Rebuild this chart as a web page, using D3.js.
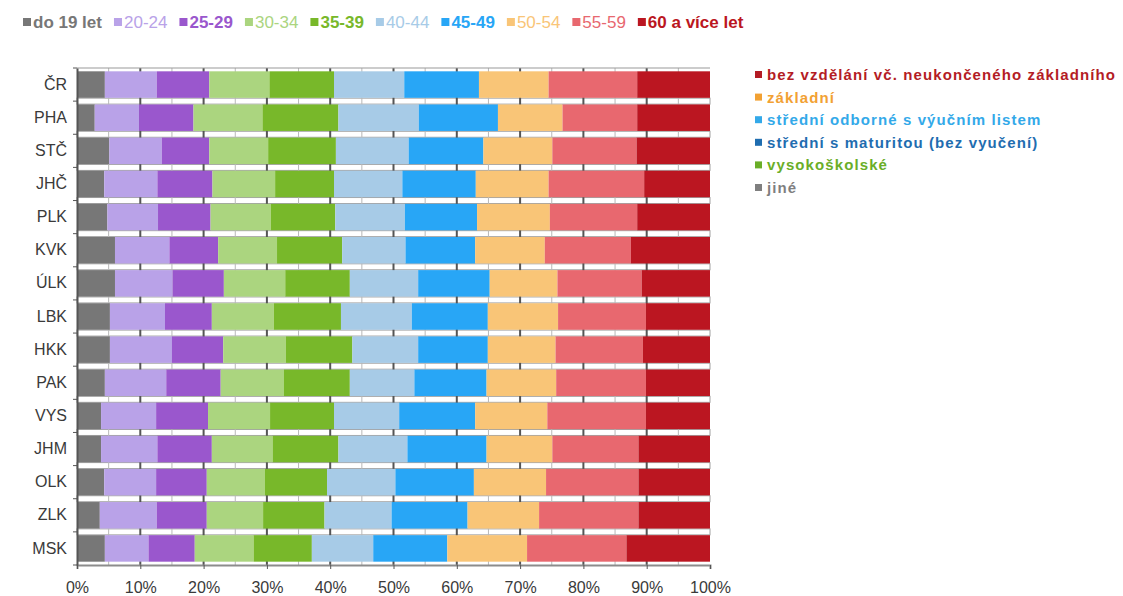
<!DOCTYPE html>
<html>
<head>
<meta charset="utf-8">
<script src="https://cdn.jsdelivr.net/npm/d3@7"></script>
<style>
  body { margin: 0; background: #fff; }
  text { font-family: "Liberation Sans", Arial, sans-serif; }
</style>
</head>
<body>
<div id="chart"></div>
<script>
(function() {
    const width = 1123,
          height = 596;

    // regions (top to bottom)
    const regions = ["ČR", "PHA", "STČ", "JHČ", "PLK", "KVK", "ÚLK", "LBK", "HKK", "PAK", "VYS", "JHM", "OLK", "ZLK", "MSK"];
    const ageGroups = ["do 19 let", "20-24", "25-29", "30-34", "35-39", "40-44", "45-49", "50-54", "55-59", "60 a více let"];
    const ageColors = ["#777777", "#b9a2e8", "#9a57cd", "#abd57f", "#78b82a", "#a7cbe7", "#28a6f6", "#f9c577", "#e8686f", "#bb1621"];
    const ageBold = [true, false, true, false, true, false, true, false, false, true];

    // share of each age group in % per region (same order as regions)
    const age19 = [4.4, 2.8, 5.1, 4.3, 4.8, 6.0, 6.0, 5.2, 5.2, 4.4, 3.8, 3.8, 4.3, 3.6, 4.4];
    const age20 = [8.2, 7.0, 8.3, 8.4, 8.0, 8.6, 9.1, 8.7, 9.8, 9.7, 8.7, 8.9, 8.2, 9.0, 6.9];
    const age25 = [8.3, 8.6, 7.5, 8.7, 8.3, 7.7, 8.1, 7.4, 8.1, 8.6, 8.2, 8.6, 8.0, 7.9, 7.3];
    const age30 = [9.5, 10.9, 9.3, 9.9, 9.5, 9.3, 9.7, 9.8, 9.9, 10.0, 9.8, 9.6, 9.2, 8.9, 9.3];
    const age35 = [10.2, 12.0, 10.7, 9.3, 10.2, 10.3, 10.2, 10.6, 10.5, 10.4, 10.1, 10.4, 9.8, 9.7, 9.2];
    const age40 = [11.1, 12.7, 11.5, 10.8, 11.0, 10.0, 10.8, 11.2, 10.4, 10.2, 10.3, 10.9, 10.8, 10.6, 9.7];
    const age45 = [11.8, 12.5, 11.8, 11.6, 11.4, 11.0, 11.3, 12.0, 11.0, 11.4, 12.0, 12.5, 12.4, 12.0, 11.7];
    const age50 = [11.0, 10.2, 10.9, 11.5, 11.5, 11.0, 10.7, 11.1, 10.7, 11.0, 11.4, 10.4, 11.4, 11.3, 12.6];
    const age55 = [14.0, 11.8, 13.3, 15.1, 13.8, 13.6, 13.3, 13.9, 13.8, 14.2, 15.6, 13.6, 14.6, 15.7, 15.7];
    const age60 = [11.5, 11.5, 11.6, 10.4, 11.5, 12.5, 10.8, 10.1, 10.6, 10.1, 10.1, 11.3, 11.3, 11.3, 13.2];

    // second legend (education)
    const eduLabels = ["bez vzdělání vč. neukončeného základního", "základní", "střední odborné s výučním listem", "střední s maturitou (bez vyučení)", "vysokoškolské", "jiné"];
    const eduColors = ["#b41c25", "#f2a133", "#33a9e9", "#1f6db0", "#6aae28", "#7f7f7f"];

    const xTicks = [0, 10, 20, 30, 40, 50, 60, 70, 80, 90, 100];

    const series = [age19, age20, age25, age30, age35, age40, age45, age50, age55, age60];
    const rows = regions.map((r, i) => {
        const row = { region: r };
        ageGroups.forEach((g, j) => row[g] = series[j][i]);
        return row;
    });

    const left = 77, right = 710, top = 68, bottom = 565;

    const svg = d3.select("#chart")
        .append("svg")
        .attr("width", width)
        .attr("height", height);

    const x = d3.scaleLinear().domain([0, 100]).range([left, right]);
    const y = d3.scaleBand().domain(regions).range([top, bottom])
        .paddingInner(0.2).paddingOuter(0.1);

    const stacked = d3.stack().keys(ageGroups)(rows);

    // gap strips between bars (plot background)
    const step = y.step();
    const gaps = d3.range(0, regions.length + 1).map(i => top + y.paddingOuter() * step - y.paddingInner() * step / 2 + i * step);
    svg.append("g").selectAll("rect")
        .data(gaps.slice(1, -1))
        .enter().append("rect")
        .attr("x", left)
        .attr("width", right - left)
        .attr("y", d => d - 3)
        .attr("height", 6)
        .attr("fill", "#fff")
        .attr("stroke", "#a0a0a0")
        .attr("stroke-width", 1);

    // vertical gridlines, 5 % light, 10 % dark
    svg.append("g").selectAll("line")
        .data(d3.range(5, 100, 5))
        .enter().append("line")
        .attr("x1", d => x(d)).attr("x2", d => x(d))
        .attr("y1", top).attr("y2", bottom)
        .attr("stroke", d => d % 10 === 0 ? "#555" : "#b8b8b8")
        .attr("stroke-width", d => d % 10 === 0 ? 2 : 1);

    // top border
    svg.append("line")
        .attr("x1", left).attr("x2", right)
        .attr("y1", top).attr("y2", top)
        .attr("stroke", "#999");

    // bars
    svg.append("g").selectAll("g")
        .data(stacked)
        .enter().append("g")
        .attr("fill", (d, i) => ageColors[i])
        .selectAll("rect")
        .data(d => d)
        .enter().append("rect")
        .attr("x", d => x(d[0]))
        .attr("width", d => x(d[1]) - x(d[0]))
        .attr("y", d => y(d.data.region))
        .attr("height", y.bandwidth());

    // x axis
    const xAxis = svg.append("g")
        .attr("transform", `translate(0,${bottom})`)
        .call(d3.axisBottom(x).tickValues(xTicks).tickFormat(d => d + "%").tickSize(4).tickPadding(13));
    xAxis.select(".domain").attr("stroke", "#8c8c8c").attr("stroke-width", 2);
    xAxis.selectAll(".tick line").attr("stroke", "#555");
    xAxis.selectAll("text")
        .attr("font-size", 16)
        .attr("fill", "#3a3a3a")
        .style("font-family", "Liberation Sans, Arial, sans-serif");

    // y axis
    const yAxis = svg.append("g")
        .attr("transform", `translate(${left},0)`)
        .call(d3.axisLeft(y).tickSize(0).tickPadding(10));
    yAxis.select(".domain").attr("stroke", "#555").attr("stroke-width", 2);
    yAxis.selectAll("text")
        .attr("font-size", 16)
        .attr("fill", "#3a3a3a")
        .style("font-family", "Liberation Sans, Arial, sans-serif");
    svg.append("g").selectAll("line")
        .data(gaps)
        .enter().append("line")
        .attr("x1", left - 4).attr("x2", left)
        .attr("y1", d => d).attr("y2", d => d)
        .attr("stroke", "#555");

    // top legend (age groups), clipped at the right like the source
    svg.append("clipPath").attr("id", "legclip")
        .append("rect").attr("x", 0).attr("y", 0).attr("width", 745).attr("height", 50);
    const topLeg = svg.append("g").attr("clip-path", "url(#legclip)");
    let lx = 23;
    ageGroups.forEach((g, i) => {
        topLeg.append("rect")
            .attr("x", lx).attr("y", 18)
            .attr("width", 8).attr("height", 8)
            .attr("fill", ageColors[i]);
        const t = topLeg.append("text")
            .attr("x", lx + 10).attr("y", 28)
            .attr("font-size", 17)
            .attr("font-weight", ageBold[i] ? "bold" : "normal")
            .attr("fill", ageColors[i])
            .text(g);
        lx += 10 + t.node().getComputedTextLength() + 12;
    });

    // right legend (education)
    const eduLeg = svg.append("g").selectAll("g")
        .data(eduLabels)
        .enter().append("g")
        .attr("transform", (d, i) => `translate(755,${75 + i * 22.6})`);
    eduLeg.append("rect")
        .attr("x", 0).attr("y", -4)
        .attr("width", 7).attr("height", 7)
        .attr("fill", (d, i) => eduColors[i]);
    eduLeg.append("text")
        .attr("x", 12).attr("y", 5)
        .attr("font-size", 15)
        .attr("font-weight", "bold")
        .attr("letter-spacing", 1.1)
        .attr("fill", (d, i) => eduColors[i])
        .text(d => d);
})();
</script>
</body>
</html>
